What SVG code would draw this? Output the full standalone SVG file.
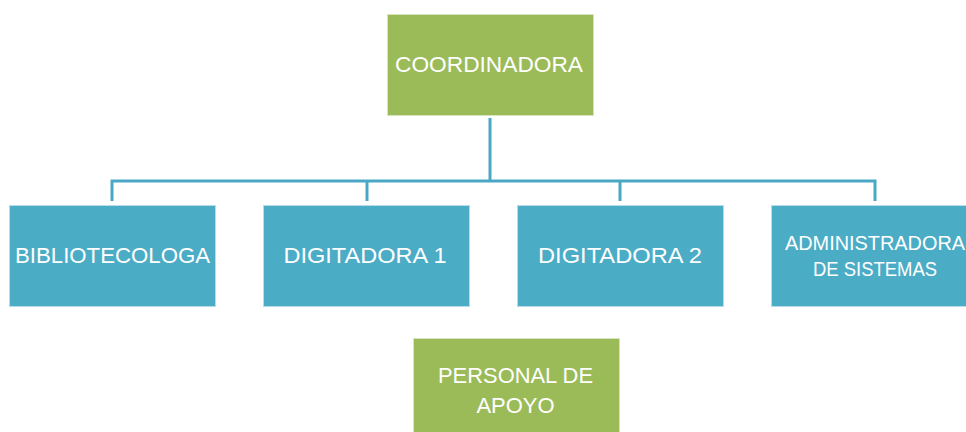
<svg xmlns="http://www.w3.org/2000/svg" width="966" height="432" viewBox="0 0 966 432">
<style>
.green{fill:#9BBB59;stroke:#D7E4BD;stroke-width:1}
.blue{fill:#4BACC6;stroke:#B7DEE8;stroke-width:1}
.lbl{font-family:"Liberation Sans",Arial,sans-serif;font-size:22px;fill:#FFFFFF;text-anchor:middle}
.sm{font-size:20px}
.conn{fill:none;stroke:#4BA8C4;stroke-width:3}
</style>
<rect width="966" height="432" fill="#FFFFFF"/>
<g id="connectors">
<path class="conn" d="M490,118 V181"/>
<path class="conn" d="M112,201 V181 H875 V201"/>
<path class="conn" d="M367,181 V201"/>
<path class="conn" d="M620,181 V201"/>
</g>
<g id="coordinadora">
<rect class="green" x="387.5" y="14.5" width="206" height="101"/>
<text class="lbl" x="489" y="72" textLength="188" lengthAdjust="spacingAndGlyphs">COORDINADORA</text>
</g>
<g id="bibliotecologa">
<rect class="blue" x="9.5" y="205.5" width="206" height="101"/>
<text class="lbl" x="112.5" y="263" textLength="195" lengthAdjust="spacingAndGlyphs">BIBLIOTECOLOGA</text>
</g>
<g id="digitadora1">
<rect class="blue" x="263.5" y="205.5" width="206" height="101"/>
<text class="lbl" x="365" y="263" textLength="163" lengthAdjust="spacingAndGlyphs">DIGITADORA 1</text>
</g>
<g id="digitadora2">
<rect class="blue" x="517.5" y="205.5" width="206" height="101"/>
<text class="lbl" x="620" y="263" textLength="164" lengthAdjust="spacingAndGlyphs">DIGITADORA 2</text>
</g>
<g id="administradora">
<rect class="blue" x="771.5" y="205.5" width="206" height="101"/>
<text class="lbl sm" x="875" y="250" textLength="180" lengthAdjust="spacingAndGlyphs">ADMINISTRADORA</text>
<text class="lbl sm" x="875" y="276" textLength="124" lengthAdjust="spacingAndGlyphs">DE SISTEMAS</text>
</g>
<g id="personal">
<rect class="green" x="413.5" y="338.5" width="206" height="101"/>
<text class="lbl" x="515.5" y="383" textLength="155" lengthAdjust="spacingAndGlyphs">PERSONAL DE</text>
<text class="lbl" x="515.5" y="413">APOYO</text>
</g>
</svg>
